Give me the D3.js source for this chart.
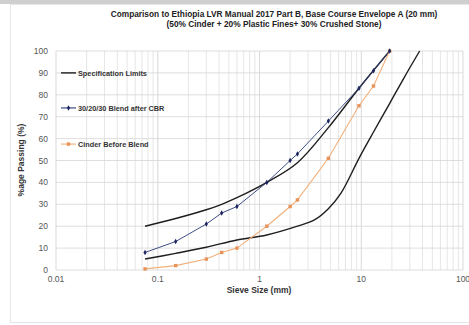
<!DOCTYPE html>
<html>
<head>
<meta charset="utf-8">
<script src="https://cdn.jsdelivr.net/npm/d3@7"></script>
<style>
  body { margin: 0; background: #fff; }
  svg { display: block; font-family: "Liberation Sans", Arial, sans-serif; }
</style>
</head>
<body>
<script>
const sieves = [0.075, 0.15, 0.3, 0.425, 0.6, 1.18, 2, 2.36, 4.75, 9.5, 13.2, 19]
const blendAfterCBR = [8, 13, 21, 26, 29, 40, 50, 53, 68, 83, 91, 100]
const cinderBefore = [0.5, 2, 5, 8, 10, 20, 29, 32, 51, 75, 84, 100]

const upperSizes = [0.075, 0.15, 0.3, 0.425, 0.6, 1.18, 2.36, 4.75, 9.5, 19]
const upperLimit = [20, 23.5, 27.5, 30, 33, 40, 49, 65, 83, 100]
const lowerSizes = [0.075, 0.15, 0.3, 0.6, 1.18, 2.36, 3.5, 4.75, 6.3, 9.5, 13.2, 19, 26.5, 37.5]
const lowerLimit = [5, 7.6, 10.4, 13.7, 16, 20, 23, 28, 35, 51, 63, 76, 88, 100]

const xTicks = [0.01, 0.1, 1, 10, 100]
const yTicks = [0, 10, 20, 30, 40, 50, 60, 70, 80, 90, 100]

const W = 469, H = 325
const svg = d3.select("body").append("svg").attr("width", W).attr("height", H)

// screenshot frame
svg.append("rect").attr("x", 0).attr("y", 0).attr("width", W).attr("height", 4).attr("fill", "#cfcfcf")
svg.append("rect").attr("x", 10.5).attr("y", 4.5).attr("width", W - 10).attr("height", 318)
  .attr("fill", "none").attr("stroke", "#e6e6e6")

const x = d3.scaleLog().domain([0.01, 100]).range([56, 463])
const y = d3.scaleLinear().domain([0, 100]).range([270, 51])

// grid
const minor = []
for (let e = -2; e < 2; e++) for (let k = 1; k < 10; k++) minor.push(k * Math.pow(10, e))
minor.push(100)
svg.append("g").selectAll("line").data(minor).join("line")
  .attr("x1", d => x(d)).attr("x2", d => x(d))
  .attr("y1", y(0)).attr("y2", y(100))
  .attr("stroke", d => xTicks.includes(d) ? "#cfcfcf" : "#e0e0e0")
  .attr("stroke-width", 0.8)
svg.append("g").selectAll("line").data(yTicks).join("line")
  .attr("x1", x(0.01)).attr("x2", x(100))
  .attr("y1", d => y(d)).attr("y2", d => y(d))
  .attr("stroke", "#d6d6d6").attr("stroke-width", 0.8)

// axes labels
svg.append("g").attr("font-size", 8.5).attr("fill", "#555").selectAll("text").data(xTicks).join("text")
  .attr("x", d => x(d)).attr("y", 282).attr("text-anchor", "middle")
  .text(d => d3.format("~g")(d))
svg.append("g").attr("font-size", 8.5).attr("fill", "#555").selectAll("text").data(yTicks).join("text")
  .attr("x", 48).attr("y", d => y(d) + 3).attr("text-anchor", "end")
  .text(d => d)

svg.append("text").attr("x", 259).attr("y", 293).attr("text-anchor", "middle")
  .attr("font-size", 8.5).attr("font-weight", "bold").attr("fill", "#333").text("Sieve Size (mm)")
svg.append("text").attr("transform", "translate(24,160) rotate(-90)").attr("text-anchor", "middle")
  .attr("font-size", 8.5).attr("font-weight", "bold").attr("fill", "#333").text("%age Passing (%)")

svg.append("text").attr("x", 274).attr("y", 17).attr("text-anchor", "middle")
  .attr("font-size", 8.3).attr("font-weight", "bold").attr("fill", "#222")
  .text("Comparison to Ethiopia LVR Manual  2017 Part B, Base Course Envelope A (20 mm)")
svg.append("text").attr("x", 274).attr("y", 27).attr("text-anchor", "middle")
  .attr("font-size", 8.3).attr("font-weight", "bold").attr("fill", "#222")
  .text("(50% Cinder + 20% Plastic Fines+  30% Crushed Stone)")

// spec limits
const smooth = d3.line().x(d => x(d[0])).y(d => y(d[1])).curve(d3.curveCatmullRom.alpha(0.5))
const straight = d3.line().x(d => x(d[0])).y(d => y(d[1]))
svg.append("path").attr("d", smooth(d3.zip(upperSizes, upperLimit)))
  .attr("fill", "none").attr("stroke", "#1e1e1e").attr("stroke-width", 1.4)
svg.append("path").attr("d", smooth(d3.zip(lowerSizes, lowerLimit)))
  .attr("fill", "none").attr("stroke", "#1e1e1e").attr("stroke-width", 1.4)

// cinder before blend
const cinder = d3.zip(sieves, cinderBefore)
svg.append("path").attr("d", straight(cinder))
  .attr("fill", "none").attr("stroke", "#f2b07a").attr("stroke-width", 1.1)
svg.append("g").selectAll("rect").data(cinder).join("rect")
  .attr("x", d => x(d[0]) - 1.7).attr("y", d => y(d[1]) - 1.7).attr("width", 3.4).attr("height", 3.4)
  .attr("fill", "#e8935a")

// blend after CBR
const blend = d3.zip(sieves, blendAfterCBR)
svg.append("path").attr("d", straight(blend))
  .attr("fill", "none").attr("stroke", "#2c3b78").attr("stroke-width", 0.9)
svg.append("g").selectAll("path").data(blend).join("path")
  .attr("d", d3.symbol(d3.symbolDiamond, 9))
  .attr("transform", d => `translate(${x(d[0])},${y(d[1])})`)
  .attr("fill", "#1d2660")

// legend
const legend = [
  { name: "Specification Limits", color: "#1e1e1e", mark: null, yv: 90 },
  { name: "30/20/30 Blend after CBR", color: "#2c3b78", mark: "diamond", yv: 74 },
  { name: "Cinder Before Blend", color: "#f2b07a", mark: "square", yv: 57.5 }
]
const lg = svg.append("g").selectAll("g").data(legend).join("g")
  .attr("transform", d => `translate(61,${y(d.yv)})`)
lg.append("line").attr("x1", 0).attr("x2", 15).attr("stroke", d => d.color)
  .attr("stroke-width", d => d.mark ? 1.1 : 1.4)
lg.filter(d => d.mark === "diamond").append("path").attr("d", d3.symbol(d3.symbolDiamond, 9))
  .attr("transform", "translate(7.5,0)").attr("fill", "#1d2660")
lg.filter(d => d.mark === "square").append("rect").attr("x", 5.8).attr("y", -1.7).attr("width", 3.4).attr("height", 3.4)
  .attr("fill", "#e8935a")
lg.append("text").attr("x", 17).attr("y", 2.6).attr("font-size", 7.3).attr("font-weight", "bold")
  .attr("fill", "#333").text(d => d.name)
</script>
</body>
</html>
